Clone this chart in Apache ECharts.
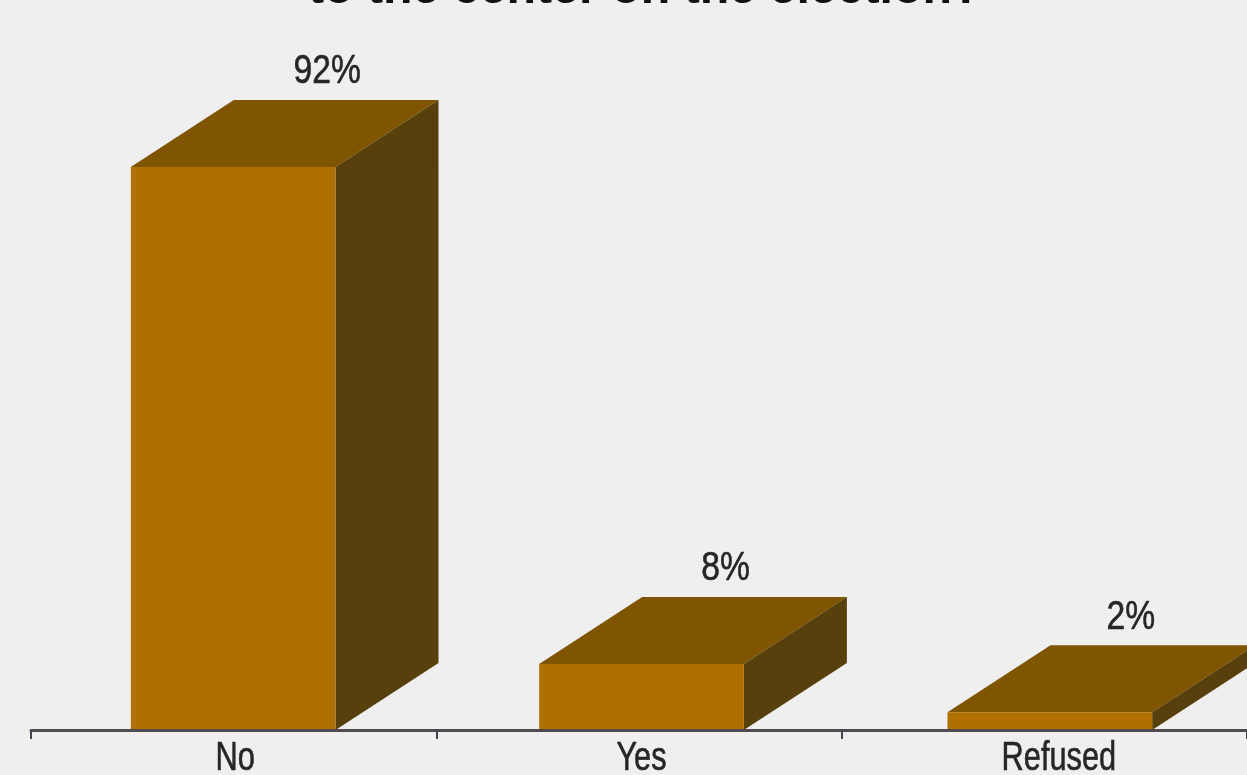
<!DOCTYPE html>
<html><head><meta charset="utf-8">
<style>html,body{margin:0;padding:0;background:#efefef}#c{width:1247px;height:775px}</style>
<script src="https://cdn.jsdelivr.net/npm/echarts@6/dist/echarts.min.js"></script>
</head><body><div id="c"></div>
<script>
const categories = ['No', 'Yes', 'Refused'];
const barValues = [92, 10.8, 2.9];
const valueLabels = ['92%', '8%', '2%'];
const titleText = 'to the center on the election?';

const FRONT = '#b07000', TOP = '#7f5500', SIDE = '#57400b';
const barNudge = [0, 3, 6];
const labelShift = [94, 84, 81];
const catShift = [2, 0, 9];
const chart = echarts.init(document.getElementById('c'), null, {renderer: 'canvas'});
const narrowText = (text, x, y, scaleX) => ({
  type: 'text', x, y, scaleX,
  style: {text, x: 0, y: 0, align: 'center', verticalAlign: 'middle',
    font: '41px "Liberation Sans"', fill: '#262626', stroke: '#262626', lineWidth: 0.6}
});
chart.setOption({
  backgroundColor: '#efefef',
  animation: false,
  title: {text: titleText, left: 303, top: -39,
    textStyle: {fontFamily: 'Liberation Sans', fontWeight: 'bold', fontSize: 48.3, color: '#111'}},
  grid: {left: 31, top: 0, width: 1218, height: 730},
  xAxis: {type: 'category', data: categories, z: 10,
    axisLine: {lineStyle: {color: '#4f4b50', width: 3}},
    axisTick: {show: true, length: 9, lineStyle: {color: '#45454f', width: 2}},
    axisLabel: {show: false}},
  yAxis: {type: 'value', min: 0, max: 730 / 6.12, show: false, splitLine: {show: false}},
  series: [{
    type: 'custom', z: 5, clip: false,
    data: barValues.map((v, i) => [i, v]),
    renderItem(params, api) {
      const i = api.value(0);
      const top = api.coord([i, api.value(1)]);
      const base = api.coord([i, 0]);
      const w = api.size([1, 0])[0] * 0.505;
      const cx = top[0] + barNudge[i] - 0.5;
      const x0 = cx - w / 2, x1 = x0 + w;
      const dx = 103, dy = 67;
      const poly = (points, fill) => ({type: 'polygon', shape: {points}, style: {fill}});
      return {type: 'group', children: [
        poly([[x0, top[1]], [x1, top[1]], [x1 + dx, top[1] - dy], [x0 + dx, top[1] - dy]], TOP),
        poly([[x1, top[1]], [x1 + dx, top[1] - dy], [x1 + dx, base[1] - dy], [x1, base[1]]], SIDE),
        poly([[x0, top[1]], [x1, top[1]], [x1, base[1]], [x0, base[1]]], FRONT),
        narrowText(valueLabels[i], cx + labelShift[i], top[1] - dy - 28, 0.82),
        narrowText(categories[i], cx + catShift[i], base[1] + 29, 0.75)
      ]};
    }
  }]
});
</script></body></html>
